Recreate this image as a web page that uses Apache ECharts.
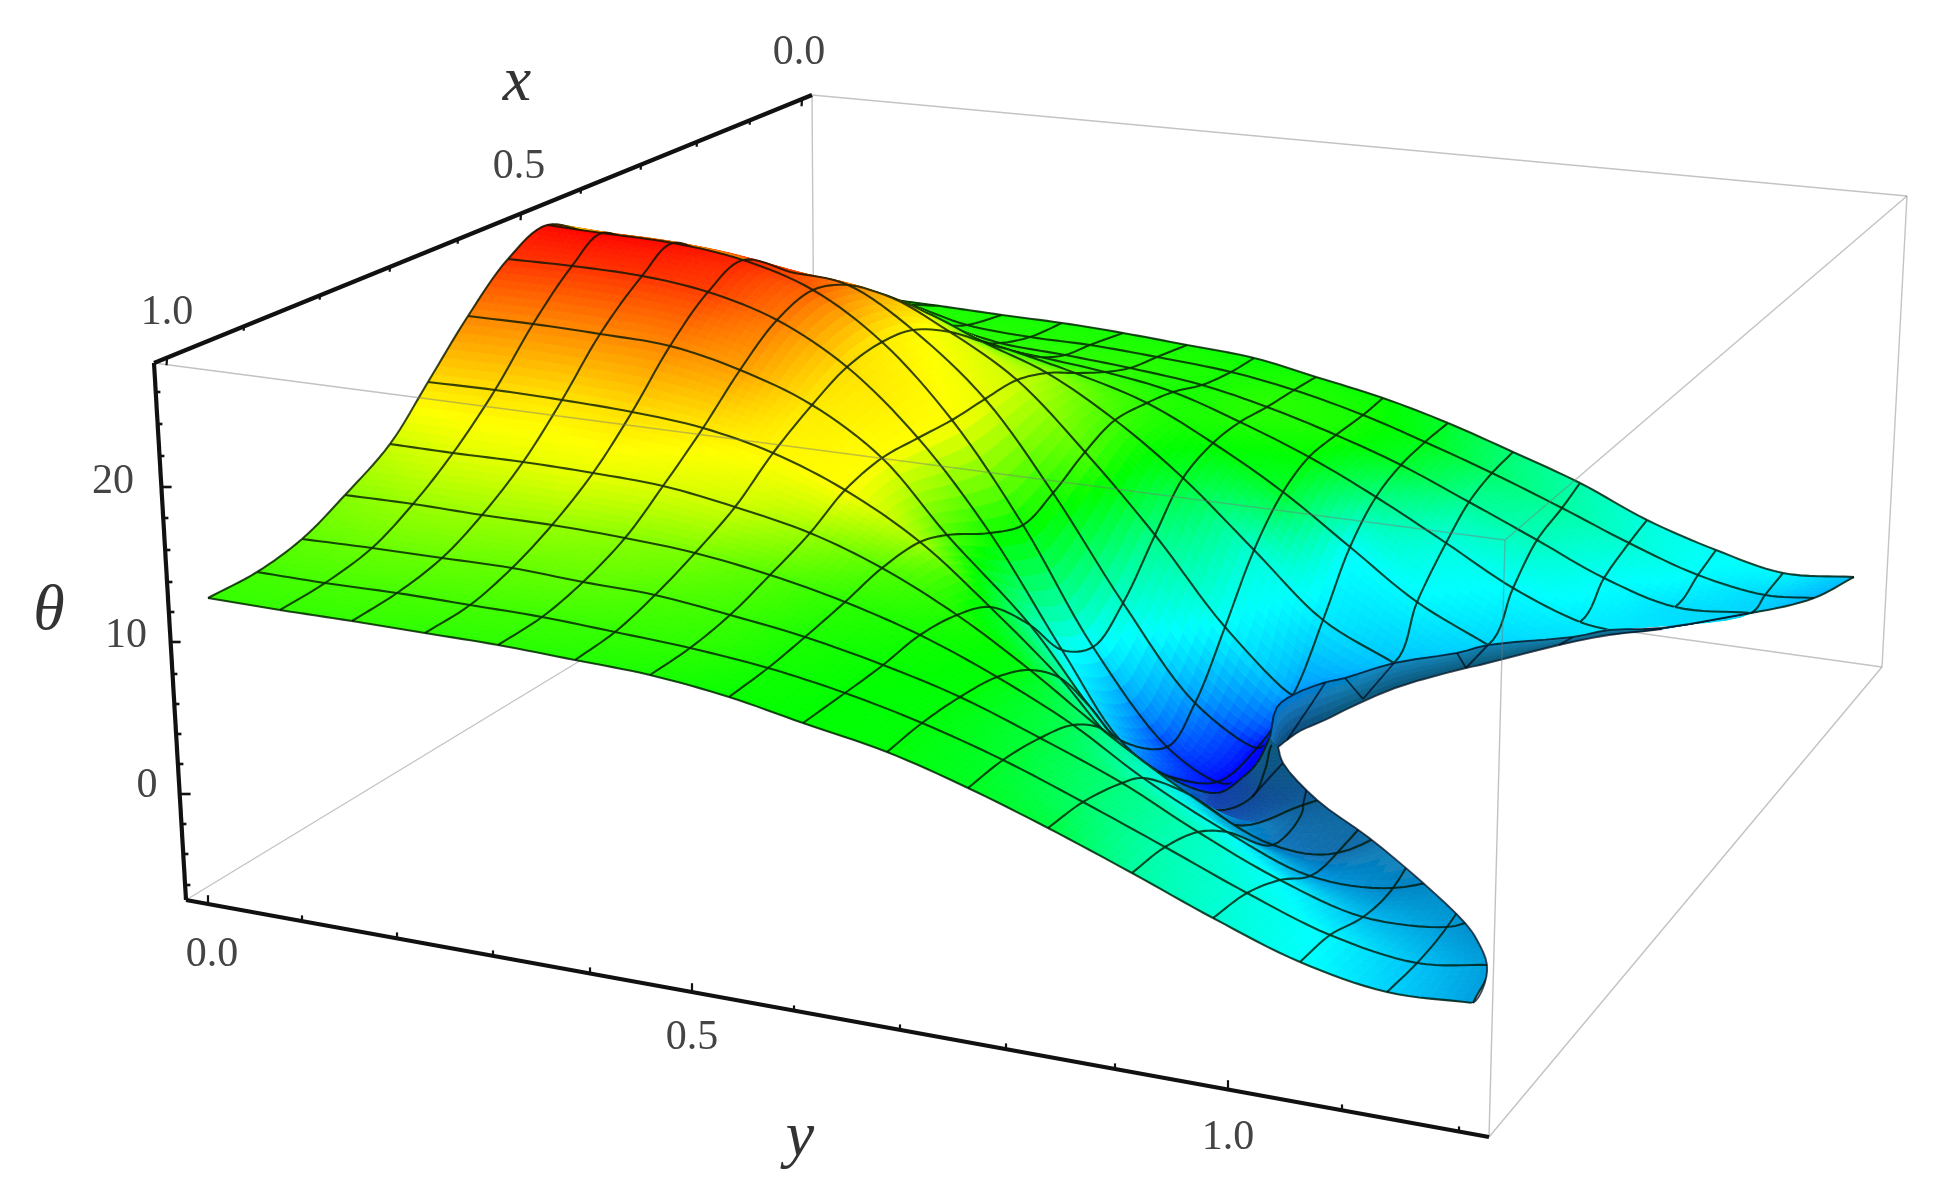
<!DOCTYPE html>
<html><head><meta charset="utf-8">
<style>html,body{margin:0;padding:0;background:#fff}#c{width:1942px;height:1202px}</style>
<script src="https://cdn.jsdelivr.net/npm/echarts@6/dist/echarts.min.js"></script>
</head><body><div id="c"></div>
<script>
// ---- tick labels and axis titles ----
const xTickLabels=[['1.0',167,313],['0.5',519,167],['0.0',799,53]];
const yTickLabels=[['0.0',212,955],['0.5',692,1038],['1.0',1228,1138]];
const thetaTickLabels=[['20',113,482],['10',126,636],['0',147,786]];
const axisTitles=[['x',517,83],['y',800,1138],['\u03b8',49,612]];
// ---- projected axis positions (picture units) ----
const xAxisLine=[[154,363],[812,95]];
const yAxisLine=[[186,900],[1489,1137]];
const thetaAxisLine=[[154,363],[186,900]];
const xTicks=[[167,358,1],[244,326,0],[320,295,0],[390,267,0],[458,239,0],[521,213,1],[581,189,0],[641,165,0],[697,142,0],[750,120,0],[802,99,1]];
const yTicks=[[208,904,1],[302,921,0],[397,938,0],[493,956,0],[590,973,0],[692,992,1],[794,1011,0],[900,1030,0],[1006,1049,0],[1115,1069,0],[1228,1089,1],[1342,1110,0],[1459,1132,0]];
const thetaTicks=[[156,392,0],[158,424,0],[160,456,0],[162,487,1],[164,518,0],[166,550,0],[168,582,0],[170,612,0],[171,642,1],[173,674,0],[175,704,0],[177,734,0],[179,764,0],[181,794,1],[182,824,0],[184,854,0],[186,885,0]];
const boxBack=[[[812,95],[815,518]],[[812,95],[1907,196]],[[1907,196],[1882,667]],[[815,518],[186,900]],[[815,518],[1882,667]]];
const boxFront=[[[154,363],[1505,540]],[[1505,540],[1489,1137]],[[1505,540],[1907,196]],[[1489,1137],[1882,667]]];
// ---- surface mesh: one list per b-line, nodes a0..a16 as projected [u,v] ----
const meshColumns=[
[[208,598],[257,572],[302,539],[345,495],[390,444],[428,382],[468,316],[508,259],[547,225],[590,233],[625,240],[660,248],[695,256],[725,264],[755,272],[790,282],[820,290]],
[[280,610],[325,583],[372,548],[413,504],[453,453],[495,390],[533,324],[572,266],[602,233],[640,245],[675,252],[710,260],[745,268],[780,276],[810,284],[845,292],[880,298]],
[[352,621],[397,593],[442,558],[482,515],[523,462],[562,400],[600,334],[642,276],[673,243],[715,258],[750,266],[785,275],[815,283],[845,292],[875,298],[907,304],[940,306]],
[[425,633],[470,605],[512,568],[552,525],[593,473],[632,412],[670,346],[708,292],[743,260],[790,272],[830,285],[865,292],[895,305],[920,318],[945,325],[967,325],[1002,315]],
[[498,645],[542,617],[583,582],[625,538],[663,486],[703,428],[740,370],[777,320],[813,290],[848,285],[885,295],[925,312],[950,330],[975,342],[1000,343],[1030,337],[1062,323]],
[[575,660],[615,632],[655,595],[695,553],[735,507],[773,453],[812,405],[847,367],[882,342],[913,330],[950,332],[983,342],[1010,350],[1040,357],[1065,355],[1090,345],[1123,333]],
[[650,675],[690,648],[730,615],[770,575],[810,533],[845,490],[882,458],[918,438],[952,420],[985,399],[1017,380],[1047,373],[1075,373],[1105,372],[1130,368],[1157,357],[1187,345]],
[[729,697],[768,668],[805,637],[845,602],[882,568],[920,542],[947,535],[990,533],[1023,525],[1053,493],[1085,452],[1115,420],[1147,403],[1173,392],[1202,385],[1231,372],[1254,358]],
[[803,723],[845,693],[883,665],[920,635],[957,615],[990,607],[1030,625],[1062,650],[1093,647],[1123,603],[1155,535],[1183,478],[1213,443],[1240,422],[1267,407],[1294,390],[1316,377]],
[[887,752],[922,723],[960,697],[997,677],[1030,670],[1060,678],[1090,707],[1120,740],[1167,747],[1195,703],[1225,627],[1254,550],[1283,492],[1309,457],[1336,435],[1363,415],[1383,398]],
[[968,788],[1003,760],[1040,738],[1073,725],[1100,728],[1118,745],[1135,760],[1165,775],[1217,782],[1257,748],[1293,695],[1323,620],[1350,547],[1376,497],[1401,465],[1425,442],[1448,423]],
[[1048,828],[1083,802],[1122,783],[1143,778],[1190,795],[1233,825],[1215,810],[1217,793],[1232,783],[1265,745],[1296,693],[1394,663],[1417,602],[1446,543],[1469,502],[1492,473],[1513,452]],
[[1132,873],[1165,847],[1198,832],[1227,832],[1273,845],[1303,805],[1252,797],[1243,777],[1243,775],[1265,745],[1296,693],[1394,663],[1488,645],[1513,588],[1537,540],[1562,508],[1580,483]],
[[1213,918],[1247,893],[1280,880],[1310,876],[1337,853],[1392,773],[1265,770],[1257,763],[1257,762],[1265,745],[1296,693],[1394,663],[1488,645],[1580,622],[1604,578],[1629,543],[1647,520]],
[[1300,962],[1330,935],[1363,917],[1393,888],[1442,798],[1470,745],[1272,745],[1270,737],[1270,737],[1270,737],[1296,693],[1394,663],[1488,645],[1609,630],[1675,607],[1698,575],[1716,550]],
[[1387,992],[1417,963],[1447,927],[1484,867],[1530,752],[1540,720],[1277,745],[1270,737],[1270,737],[1270,737],[1296,693],[1394,663],[1488,645],[1609,630],[1751,613],[1765,595],[1783,573]],
[[1473,1003],[1490,965],[1475,920],[1560,850],[1600,720],[1600,700],[1277,745],[1270,737],[1270,737],[1270,737],[1296,693],[1394,663],[1488,645],[1609,630],[1751,613],[1814,598],[1854,577]]
];
// ---- theta at each node: one list per a-line, b0..b16 ----
const thetaRows=[
[15.4,15.4,15.4,15.2,15.2,14.9,14.7,14.2,14,13.8,13.1,12.3,9.6,8.2,7.2,5.8,5],
[15.8,15.9,15.9,15.8,15.6,15.4,15.2,14.5,14,13.8,12.8,11.1,9.1,7.9,6.8,5.5,5],
[16.6,16.8,16.8,16.7,16.6,16.1,15.6,14.7,14.2,13.8,12.3,10.5,8.8,7,5.5,5,4.9],
[17.7,18.2,18.2,18.1,17.7,17.3,16.3,15.2,14.5,13.8,11.7,8.8,7.2,4.9,4.7,4.9,4.9],
[19.6,20.1,20.3,20.4,20.1,19.6,18.2,16.3,14.9,13.4,10.5,6.4,4.1,4.1,4.7,4.9,4.9],
[21.9,21.9,21.7,21.9,21.6,21.2,21,18.6,13.4,10.5,8.8,3.5,4.1,4.7,4.7,4.7,4.7],
[24.3,24.2,24.2,24.3,23.6,21.6,21,16.3,9.9,8.2,6.4,2.3,2.9,4.1,4.7,4.7,4.7],
[26.6,26.6,26.6,26.3,24.7,21.9,21,14.5,7.2,5.3,1.8,.6,.6,.6,.6,.6,.6],
[27.8,28,27.8,27.1,25.4,21.5,21,14.2,6.8,1.8,.2,.2,.2,.2,.2,.2,.2],
[16.3,16.3,16.3,26.6,24.5,21.2,20.4,14.9,8.2,4.1,.2,.2,.2,.2,.2,.2,.2],
[16.3,16.3,16.3,25.7,23.3,20.4,19.6,16.3,10.3,7,4.1,4.1,4.1,4.1,4.1,4.1,4.1],
[15.8,15.8,15.8,23.9,15.8,16.3,18.4,15.8,12.8,8.2,6.4,5.3,5.3,5.3,5.3,5.3,5.3],
[15.8,15.8,15.8,15.4,15.8,15.4,16.3,15.2,14.2,12.8,7.2,6.8,5.8,5.8,5.8,5.8,5.8],
[15.4,15.4,15.4,15.2,15.2,15.2,15.4,14.6,14.9,14,10.5,7.9,7,6.4,6.4,6.4,6.4],
[15.2,15.2,15.2,14.9,15.2,15.2,15.2,14.6,15.2,14.6,12.8,9.9,8.8,7.2,6.1,5.8,5.8],
[14.9,14.9,14.9,14.9,14.9,14.9,14.9,14.6,14.9,14.6,13.4,11.1,9.6,8.2,7,5.8,5],
[14.7,14.7,14.7,14.6,14.6,14.6,14.6,14.2,14.5,14.2,12.8,10.7,9.3,7.9,7.2,6.8,5.3]
];
const thetaA7Underside=[26.6,26.6,26.6,26.3,24.7,21.9,21,14.5,7.2,5.3,4.7,1.8,2.6,4.1,4.7,4.7,4.7];
// lighting at nodes that read darker than the pure colour scale: [a,b,brightness]
const shadeNodes=[[0,16,.88],[1,15,.97],[1,16,.86],[2,14,.95],[2,15,.85],[2,16,.78],[3,13,.9],[3,14,.78],[3,15,.72],[3,16,.7],
[4,11,.92],[4,12,.76],[4,13,.68],[4,14,.62],[4,15,.6],[4,16,.6],[5,11,.76],[5,12,.58],[5,13,.55],[5,14,.55],[5,15,.55],[5,16,.55],
[6,11,.7],[6,12,.6],[6,13,.52],[6,14,.5],[6,15,.5],[6,16,.5]];
const shadeA7Underside=[1,1,1,1,1,1,1,1,1,1,.85,.68,.6,.55,.5,.5,.5];
// which stretches of each mesh line are seen
const aLineEnd=[16,16,16,16,16,15,14,14,11,11,10,11,12,14,15,16,16];
const bLineSpans=[[[0,16]],[[0,16]],[[0,16]],[[0,16]],[[0,16]],[[0,16]],[[0,16]],[[0,16]],[[0,16]],[[0,16]],[[0,16]],
[[0,5],[11,16]],[[0,5],[12,16]],[[0,5],[13,16]],[[0,5],[14,16]],[[0,4],[14,16]],[[0,1],[14,16]]];
// dark fold strip under the right wing
const stripTop=[[1270,737],[1277,707],[1293,695],[1323,683],[1345,678],[1394,663],[1457,653],[1488,645],[1573,637],[1609,630],[1662,628],[1751,613]];
const stripBottom=[[1278,747],[1287,740],[1300,731],[1325,720],[1345,710],[1395,688],[1466,668],[1480,665],[1559,645],[1609,635],[1662,629],[1751,613]];
const stripTheta=[4,4,4.1,4.4,4.7,4.7,4.9,4.9,5,5,5,5];
const stripTopShade=[.8,.85,.85,.82,.8,.75,.72,.7,.7,.7,.75,.8];
const stripLines=[[[1325,683],[1312,703],[1287,740]],[[1345,678],[1363,699]],[[1394,663],[1363,699]],[[1457,653],[1466,668]],[[1488,645],[1466,668]],[[1573,637],[1559,645]]];
const lobeLines=[[[1252,797],[1270,777],[1283,763]],[[1303,805],[1307,787]]];
const lobeEdge=[[1427,1002],[1460,1004],[1473,1003],[1483,988],[1487,965],[1477,940],[1465,923],[1422,882],[1368,837],[1317,800],[1283,763],[1278,747]];
const maskOuter=[[1640,640],[1640,1020],[1427,1020]];

const N=8, R=16;
// centripetal Catmull-Rom through the read nodes
function seg(a,b,c,d,t){
 const D=(p,q)=>Math.pow(Math.hypot(q[0]-p[0],q[1]-p[1]),.5),d1=D(a,b),d2=D(b,c),d3=D(c,d);
 if(d2===0)return b.slice();
 const out=[];
 for(let k=0;k<2;k++){
  let m1=d1>0?(b[k]-a[k])/d1-(c[k]-a[k])/(d1+d2)+(c[k]-b[k])/d2:(c[k]-b[k])/d2;
  let m2=d3>0?(d[k]-c[k])/d3-(d[k]-b[k])/(d2+d3)+(c[k]-b[k])/d2:(c[k]-b[k])/d2;
  m1*=d2;m2*=d2;const t2=t*t,t3=t2*t;
  out[k]=(2*t3-3*t2+1)*b[k]+(t3-2*t2+t)*m1+(-2*t3+3*t2)*c[k]+(t3-t2)*m2;
 }
 return out;
}
function spline(pts,n){const out=[],m=pts.length;for(let i=0;i<m-1;i++){const a=pts[Math.max(i-1,0)],b=pts[i],c=pts[i+1],d=pts[Math.min(i+2,m-1)];
 for(let k=0;k<n;k++)out.push(seg(a,b,c,d,k/n));}out.push(pts[m-1].slice());return out;}
const rowsFine=[];for(let a=0;a<=R;a++){rowsFine.push(spline(meshColumns.map(c=>c[a]),N));}
const fine=[];for(let a=0;a<=R*N;a++)fine.push([]);
for(let k=0;k<=R*N;k++){const col=spline(rowsFine.map(r=>r[k]),N);for(let a=0;a<=R*N;a++)fine[a][k]=col[a];}
const shadeRows=thetaRows.map(r=>r.map(()=>1));shadeNodes.forEach(s=>{shadeRows[s[0]][s[1]]=s[2];});
function color(theta,v){let h=(28-theta)/28*240;h=Math.max(0,Math.min(240,h));const s=v<.75?.9:1;
 const c=v*s,x=c*(1-Math.abs((h/60)%2-1)),m=v-c;let r,g,b;
 if(h<60){r=c;g=x;b=0}else if(h<120){r=x;g=c;b=0}else if(h<180){r=0;g=c;b=x}else{r=0;g=x;b=c}
 return 'rgb('+Math.round((r+m)*255)+','+Math.round((g+m)*255)+','+Math.round((b+m)*255)+')';}
const lineStyle={stroke:'rgba(0,20,0,.78)',lineWidth:2.1,fill:null};
const cells=[];for(let a=R-1;a>=0;a--)for(let b=0;b<R;b++)cells.push([a,b]);
function bLineSeen(b,a){return bLineSpans[b].some(s=>a>=s[0]&&a<s[1]);}
function renderCell(params,api){
 const a=api.value(0),b=api.value(1),P=(i,j)=>api.coord(fine[a*N+i][b*N+j]),ch=[];
 const upperTheta=a===6?thetaA7Underside:thetaRows[a+1],upperShade=a===6?shadeA7Underside:shadeRows[a+1];
 for(let i=0;i<N;i++)for(let j=0;j<N;j++){
  const pts=[P(i,j),P(i,j+1),P(i+1,j+1),P(i+1,j)];
  const ar=Math.abs((pts[2][0]-pts[0][0])*(pts[3][1]-pts[1][1])-(pts[3][0]-pts[1][0])*(pts[2][1]-pts[0][1]));
  if(ar<.3)continue;
  const s=(i+.5)/N,t=(j+.5)/N;
  const mix=(lo,hi)=>(lo[b]*(1-t)+lo[b+1]*t)*(1-s)+(hi[b]*(1-t)+hi[b+1]*t)*s;
  const f=color(mix(thetaRows[a],upperTheta),mix(shadeRows[a],upperShade));
  ch.push({type:'polygon',shape:{points:pts},style:{fill:f,stroke:f,lineWidth:.8}});
 }
 const seq=(fn)=>{const o=[];for(let k=0;k<=N;k++)o.push(fn(k));return o;};
 if(bLineSeen(b,a))ch.push({type:'polyline',shape:{points:seq(k=>P(k,0))},style:lineStyle});
 if(b===R-1&&bLineSeen(R,a))ch.push({type:'polyline',shape:{points:seq(k=>P(k,N))},style:lineStyle});
 if(b<aLineEnd[a+1])ch.push({type:'polyline',shape:{points:seq(k=>P(N,k))},style:lineStyle});
 if(a===0)ch.push({type:'polyline',shape:{points:seq(k=>P(0,k))},style:lineStyle});
 return {type:'group',children:ch};
}
function lineSeries(lines,style,z){return {type:'custom',coordinateSystem:'cartesian2d',z:z,silent:true,animation:false,clip:false,progressive:0,
 data:lines.map((l,i)=>[i,0]),renderItem:(p,api)=>({type:'polyline',shape:{points:lines[api.value(0)].map(q=>api.coord(q))},style:Object.assign({fill:null},style)})};}
function textSeries(items,font,fill,z){return {type:'custom',coordinateSystem:'cartesian2d',z:z,silent:true,animation:false,clip:false,progressive:0,
 data:items.map((l,i)=>[i,0]),renderItem:(p,api)=>{const it=items[api.value(0)],c=api.coord([it[1],it[2]]);
 return {type:'text',style:{text:it[0],x:c[0],y:c[1],font:font,fill:fill,textAlign:'center',textVerticalAlign:'middle'}};}};}
function tickLines(list,dx,dy,major,minor){return list.map(t=>{const k=t[2]?major:minor;return [[t[0],t[1]],[t[0]+dx*k,t[1]+dy*k]];});}
const SS=3,topFine=spline(stripTop,SS),bottomFine=spline(stripBottom,SS),lobeFine=spline(lobeEdge,4);
const stripCells=topFine.slice(0,-1).map((q,i)=>[i,0]);
const lerpAt=(arr,f)=>{const i=Math.min(Math.floor(f),arr.length-2),t=f-i;return arr[i]*(1-t)+arr[i+1]*t;};
const chart=echarts.init(document.getElementById('c'),null,{renderer:'canvas'});
chart.setOption({animation:false,backgroundColor:'#fff',
 grid:{left:0,right:0,top:0,bottom:0},
 xAxis:{type:'value',min:0,max:1942,show:false},
 yAxis:{type:'value',min:0,max:1202,inverse:true,show:false},
 series:[
  lineSeries(boxBack,{stroke:'#c4c4c4',lineWidth:1.4},1),
  {type:'custom',coordinateSystem:'cartesian2d',z:2,silent:true,animation:false,clip:false,progressive:0,data:cells,renderItem:renderCell},
  {type:'custom',coordinateSystem:'cartesian2d',z:3,silent:true,animation:false,clip:false,progressive:0,data:stripCells,renderItem:(p,api)=>{
    const i=api.value(0),ch=[],B=5;const f0=(i+.5)/SS;
    for(let k=0;k<B;k++){const s0=k/B,s1=(k+1)/B,L=(q,r,s)=>[q[0]+(r[0]-q[0])*s,q[1]+(r[1]-q[1])*s];
     const pts=[L(topFine[i],bottomFine[i],s0),L(topFine[i+1],bottomFine[i+1],s0),L(topFine[i+1],bottomFine[i+1],s1),L(topFine[i],bottomFine[i],s1)].map(q=>api.coord(q));
     const sh=lerpAt(stripTopShade,f0),v=sh+(.48-sh)*(s0+s1)/2,f=color(lerpAt(stripTheta,f0),v);
     ch.push({type:'polygon',shape:{points:pts},style:{fill:f,stroke:f,lineWidth:.8}});}
    return {type:'group',children:ch};}},
  lineSeries(lobeLines,{stroke:'rgba(0,15,30,.75)',lineWidth:1.9},4),
  {type:'custom',coordinateSystem:'cartesian2d',z:5,silent:true,animation:false,clip:false,progressive:0,data:[[0,0]],renderItem:(p,api)=>({type:'polygon',
    shape:{points:lobeFine.concat(bottomFine.slice(1,9*SS+1),maskOuter).map(q=>api.coord(q))},style:{fill:'#fff'}})},
  lineSeries(stripLines.concat([topFine,bottomFine.slice(0,10*SS+1),lobeFine.slice(8)]),{stroke:'rgba(0,15,30,.75)',lineWidth:1.9},6),
  lineSeries(boxFront,{stroke:'rgba(120,120,120,.45)',lineWidth:1.4},7),
  lineSeries([xAxisLine,yAxisLine,thetaAxisLine],{stroke:'#111',lineWidth:4.2},8),
  lineSeries(tickLines(xTicks,-.5,8,.9,.6),{stroke:'#111',lineWidth:2.2},8),
  lineSeries(tickLines(yTicks,0,-8,1.1,.7),{stroke:'#111',lineWidth:2.2},8),
  lineSeries(tickLines(thetaTicks,8,0,1.2,.55),{stroke:'#111',lineWidth:2.6},8),
  textSeries(xTickLabels.concat(yTickLabels,thetaTickLabels),'42px "Liberation Serif"','#444',9),
  textSeries(axisTitles,'italic 64px "Liberation Serif"','#333',9)
 ]});
</script></body></html>
